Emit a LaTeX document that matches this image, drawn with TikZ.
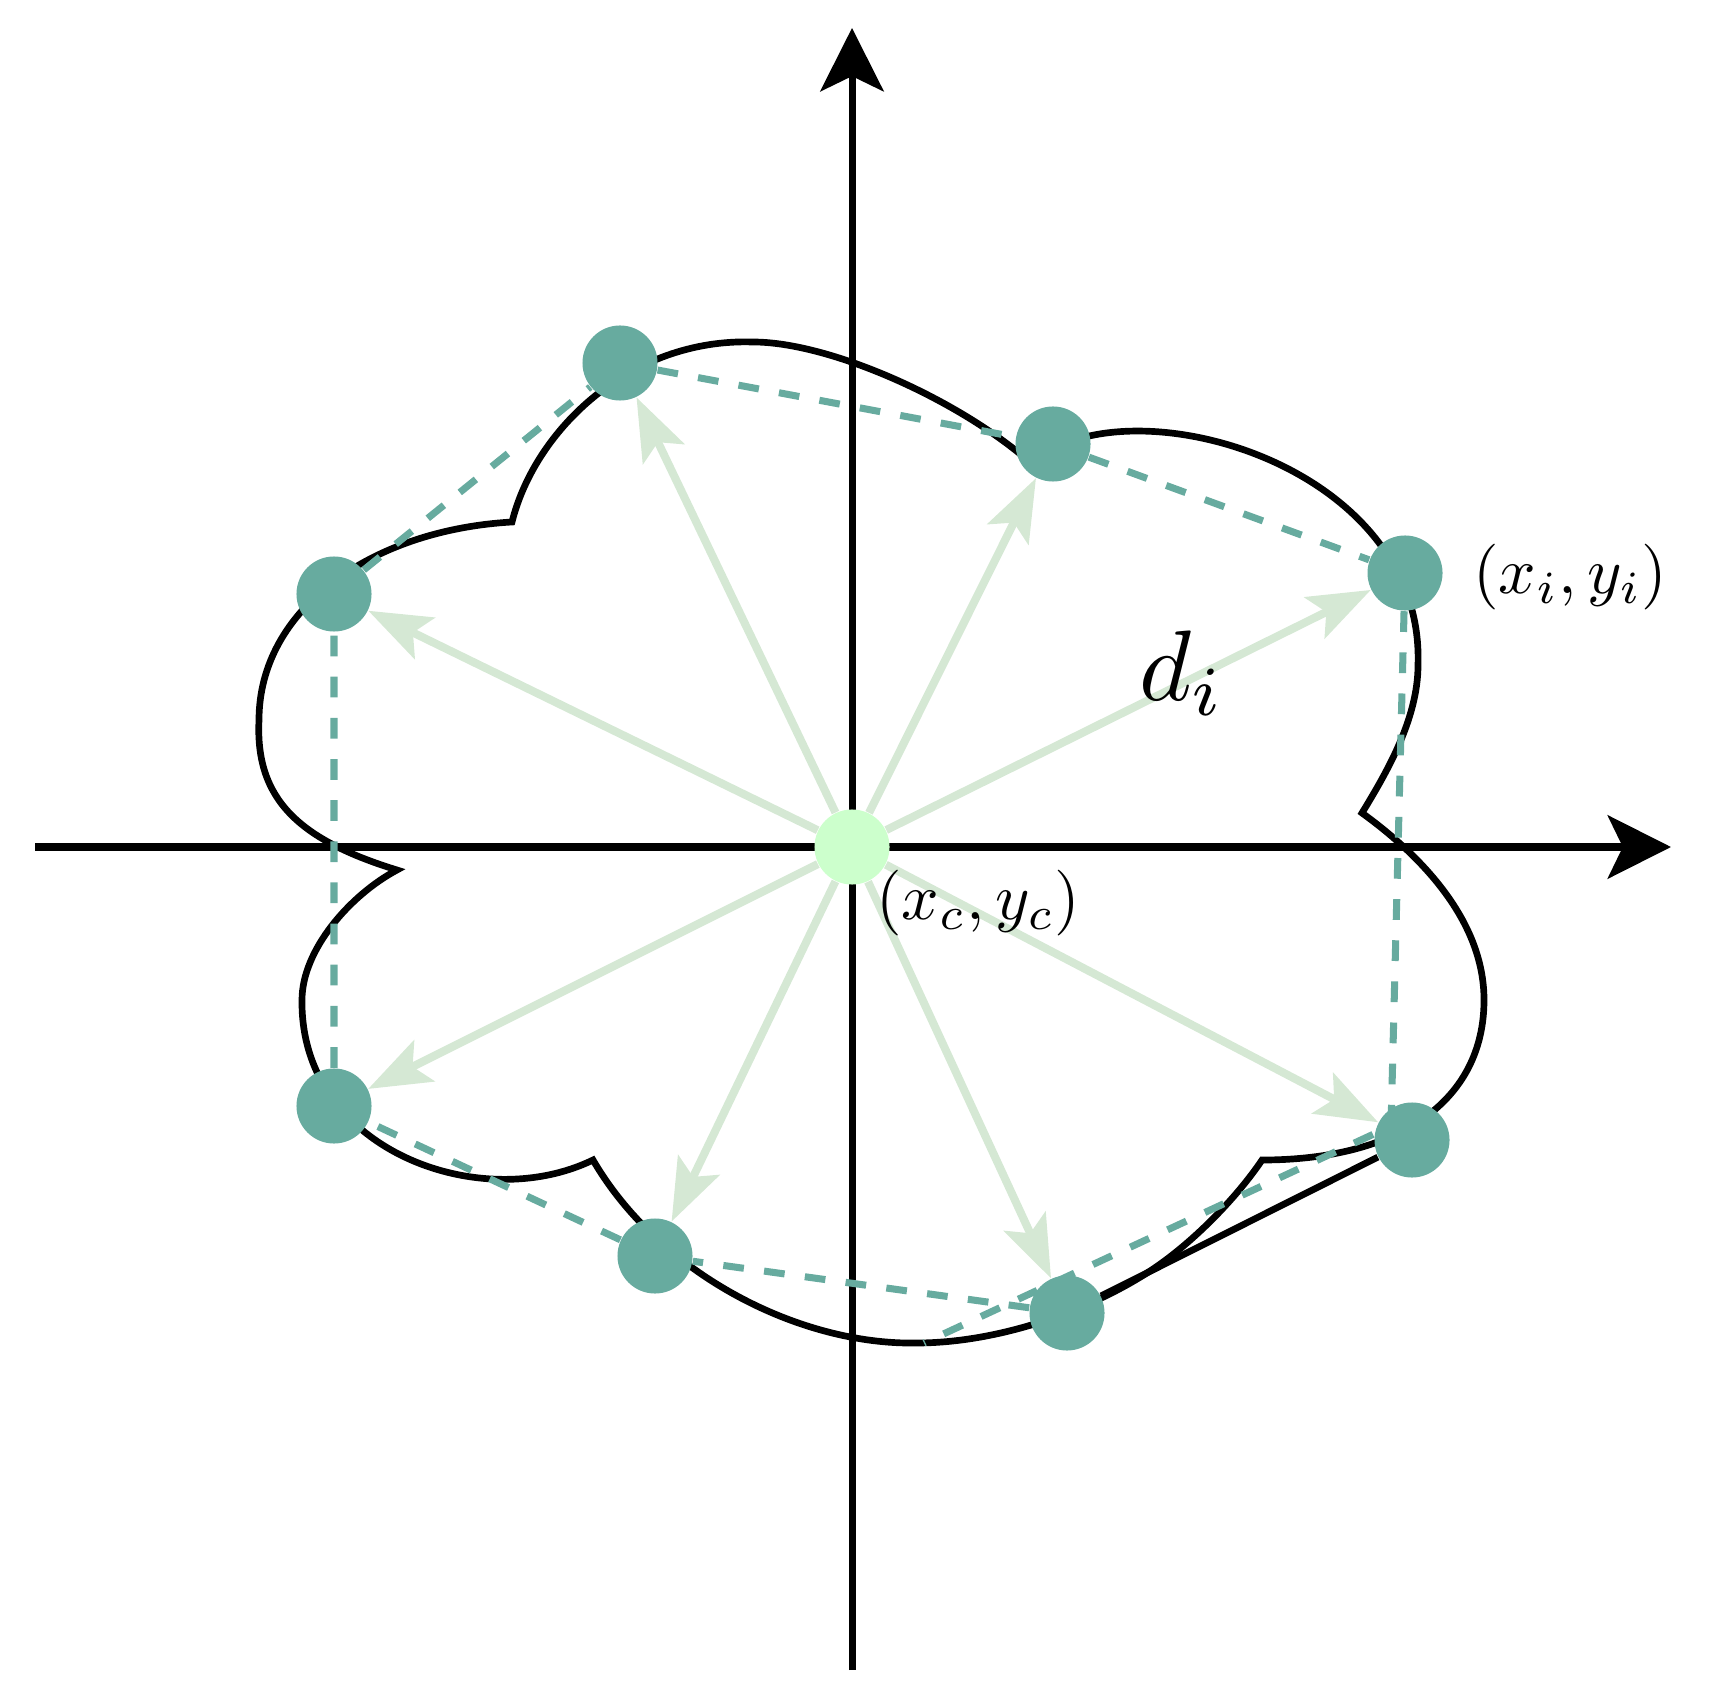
\documentclass[tikz,border=0pt]{standalone}
\usetikzlibrary{arrows.meta}
\definecolor{sampleteal}{HTML}{67AB9F}
\definecolor{spokegreen}{HTML}{D5E8D4}
\definecolor{centregreen}{HTML}{CCFFCC}
\pgfdeclarelayer{bg}
\pgfsetlayers{bg,main}
\tikzset{
    samplept/.style={circle, fill=sampleteal, minimum size=0.75cm, inner sep=0pt},
    centrept/.style={circle, fill=centregreen, minimum size=0.75cm, inner sep=0pt},
    axisline/.style={line width=2pt, -{Stealth[length=18pt, width=18pt, inset=4.3pt]}},
    outline/.style={line width=1.9pt, line join=miter},
    hull/.style={sampleteal, line width=2pt, dash pattern=on 5.9pt off 5.8pt},
    spoke/.style={spokegreen, line width=2.3pt, -{Stealth[length=17.8pt, width=13pt, inset=3.7pt]}},
    maths/.style={inner sep=0pt}
}
\begin{document}
\begin{tikzpicture}[x=0.01cm,y=-0.01cm]
            \useasboundingbox (0,0) rectangle (1710,1701);
            % Points
            \node [centrept] (c) at (852,847) {};
            \node [samplept] (p1) at (620,363) {};
            \node [samplept] (p2) at (1053,444) {};
            \node [samplept] (p3) at (1405,573) {};
            \node [samplept] (p4) at (1412,1140) {};
            \node [samplept] (p5) at (1067,1313) {};
            \node [samplept] (p6) at (655,1256) {};
            \node [samplept] (p7) at (334,1106) {};
            \node [samplept] (p8) at (334,594) {};
            \coordinate (v4) at (1391,1126);
            \coordinate (q) at (924,1343);

            % Labels
            \node [maths, anchor=west, scale=1.87] (pilabel) at (1472,577) {$(x_i,y_i)$};
            \node [maths, anchor=west, scale=1.87] (clabel) at (875,903) {$(x_c,y_c)$};
            \node [maths, anchor=base west, scale=2.85] (dlabel) at (1137,700) {$d_i$};

            \begin{pgfonlayer}{bg}
            % Axis
            \coordinate (xl) at (35,847);
            \coordinate (xr) at (1671,847);
            \coordinate (yb) at (852,1670);
            \coordinate (yt) at (852,28);
            \draw [axisline] (xl)--(xr);
            \draw [axisline] (yb)--(yt);

            % Shape
            \draw [outline] (512,522) .. controls (535,430) and (630,338) .. (753,342)
                .. controls (830,342) and (960,400) .. (1032,464)
                .. controls (1120,380) and (1425,460) .. (1418,665)
                .. controls (1418,720) and (1385,775) .. (1362,813)
                .. controls (1420,855) and (1484,920) .. (1484,1000)
                .. controls (1484,1100) and (1400,1160) .. (1262,1160)
                .. controls (1235,1200) and (1190,1245) .. (1150,1271)
                .. controls (1090,1310) and (1000,1343) .. (916,1343)
                .. controls (800,1345) and (660,1275) .. (593,1160)
                .. controls (480,1215) and (300,1150) .. (302,1000)
                .. controls (302,950) and (350,895) .. (397,870)
                .. controls (300,840) and (255,800) .. (259,720)
                .. controls (259,610) and (370,530) .. (512,522) -- cycle;
            \draw [outline] (p4)--(p5);

            % Hull
            \draw [hull] (p5)--(p6)--(p7)--(p8)--(p1)--(p2)--(p3)--(v4)--(q);

            % Distances
            \foreach \i in {1,...,8}
                \draw [spoke] (c)--(p\i);
            \end{pgfonlayer}
        \end{tikzpicture}
\end{document}
